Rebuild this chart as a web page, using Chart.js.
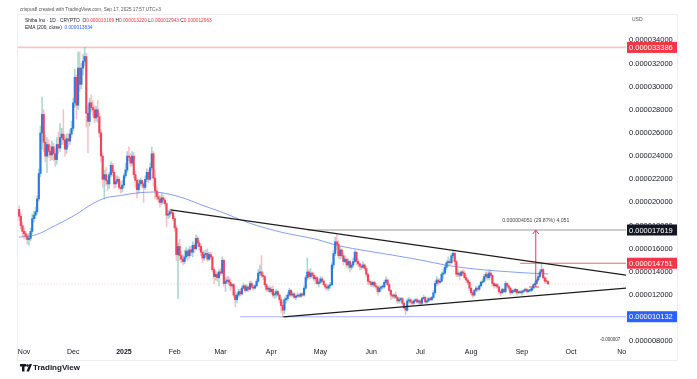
<!DOCTYPE html>
<html>
<head>
<meta charset="utf-8">
<script src="https://cdn.jsdelivr.net/npm/chart.js@4.4.1/dist/chart.umd.min.js"></script>
<style>
html,body{margin:0;padding:0;background:#ffffff;}
#wrap{position:relative;width:697px;height:379px;}
canvas{display:block;}
</style>
</head>
<body>
<div id="wrap"><canvas id="c" width="697" height="379"></canvas></div>
<script>
// Prices are in millionths of a US dollar (1 = 0.000001 USD). Daily candles, day 0 = 2024-11-01.
const firstDay = -3;          // 2024-10-29
const firstOpen = 19.4;
const closes = [
  18.8,18.0,17.5,
  17.3,17.1,16.8,16.9,17.5,18.6,18.9,19.2,20.3,22.5,26.0,27.6,25.2,24.0,25.0,24.4,24.1,24.8,24.2,23.7,25.0,24.7,25.6,25.9,25.4,24.6,25.5,25.3,25.9,26.4,
  28.6,30.8,28.4,31.6,30.2,31.6,32.2,32.6,27.7,27.0,28.6,28.2,28.0,27.3,28.0,27.4,26.0,24.0,22.0,22.4,21.9,21.6,22.4,23.2,22.6,21.6,21.8,22.0,21.3,21.2,21.5,
  22.3,22.8,24.0,23.9,23.4,24.0,22.4,21.9,21.1,21.6,21.9,21.6,21.3,22.0,22.6,22.0,23.0,24.2,22.1,21.0,20.5,20.3,20.0,20.4,20.2,19.9,18.9,19.0,19.2,19.1,18.6,
  17.8,15.5,16.2,15.4,15.1,14.9,15.3,15.8,15.4,15.9,15.7,16.3,16.0,16.9,16.5,16.2,15.7,15.2,15.5,15.6,15.1,15.5,15.3,14.2,13.6,13.8,13.5,14.0,
  13.9,15.0,13.0,13.2,13.3,13.1,12.8,12.9,12.0,11.6,12.0,12.3,12.1,12.6,12.8,12.4,12.7,12.5,13.0,12.7,12.6,12.8,13.2,13.9,14.0,13.7,13.6,12.9,12.5,12.6,12.3,
  12.5,12.0,12.1,12.3,12.0,11.6,11.1,10.7,11.6,11.7,12.0,12.4,12.0,12.1,11.8,11.9,12.0,11.9,12.1,12.0,12.6,13.5,14.0,13.6,13.9,13.7,13.4,13.5,13.0,13.1,
  13.4,13.2,12.9,12.7,12.6,12.8,12.9,14.6,15.6,16.6,16.4,15.4,15.9,15.4,14.9,15.1,14.6,14.9,14.4,14.6,14.9,15.7,14.9,14.7,14.5,14.4,14.6,14.3,13.8,13.2,13.1,
  12.9,13.1,12.8,12.7,12.3,12.6,12.7,12.7,13.1,13.3,12.9,12.4,12.0,11.9,12.0,11.8,11.5,11.6,11.7,11.3,10.9,10.7,11.5,11.6,11.4,11.3,11.5,11.6,11.4,11.5,
  11.3,11.7,11.8,11.4,11.5,11.7,11.6,11.8,12.2,13.0,13.3,13.1,13.2,13.8,13.9,14.4,14.8,14.9,14.8,15.4,15.6,14.9,13.8,13.9,13.7,14.0,13.9,13.5,13.3,13.1,12.6,
  12.2,12.0,12.4,12.6,12.5,12.8,13.1,13.2,13.6,13.8,13.5,13.9,13.7,13.0,12.8,12.9,12.7,12.3,12.2,12.5,12.3,13.0,12.8,12.6,12.2,12.4,12.3,12.5,12.2,12.3,12.2,
  12.3,12.4,12.5,12.3,12.4,12.4,12.6,12.9,13.0,13.3,13.6,14.0,14.2,13.5,13.2,13.169,12.963
];
const highs = [
  19.7,19.1,18.3,
  17.9,17.5,17.3,17.3,17.8,19.0,19.2,19.6,20.6,22.9,26.6,29.1,28.0,25.8,25.6,25.4,24.9,25.3,25.1,24.6,25.6,26.1,26.8,26.4,28.0,25.8,25.9,26.0,26.3,27.0,
  29.0,31.5,31.0,33.0,33.0,32.0,32.8,33.386,32.9,28.4,29.0,29.3,28.8,28.4,28.3,28.8,27.7,26.3,24.3,22.8,23.0,22.3,22.6,23.5,23.4,22.8,22.3,22.3,22.2,21.8,21.9,
  22.5,23.4,24.4,24.8,24.2,24.4,24.3,22.7,22.1,22.0,22.1,22.0,21.8,22.3,22.9,22.8,23.4,24.8,24.4,22.8,21.4,20.9,20.6,20.8,20.6,20.4,20.0,19.3,19.4,19.4,19.3,
  18.8,18.0,16.5,16.8,15.8,15.5,15.9,16.1,16.0,16.2,16.2,16.6,16.5,17.2,17.1,16.7,16.4,15.9,15.8,15.9,16.0,15.7,15.7,15.4,14.4,14.1,14.0,14.2,
  14.3,15.3,15.1,13.5,13.6,13.6,13.4,13.0,13.0,12.3,12.2,12.5,12.5,12.8,13.0,12.9,12.9,12.8,13.2,13.2,12.9,12.9,13.4,14.2,14.6,15.4,14.0,13.7,13.0,12.8,12.8,
  12.7,12.8,12.3,12.5,12.4,12.1,11.8,11.4,11.8,12.0,12.2,12.6,12.5,12.3,12.2,12.0,12.2,12.1,12.2,12.2,12.8,13.7,15.2,14.2,14.3,14.0,13.9,13.7,13.6,13.3,
  13.6,13.6,13.3,13.0,12.9,12.9,13.1,14.8,15.9,17.0,17.2,16.7,16.2,16.0,15.6,15.4,15.2,15.1,15.0,14.8,15.2,15.9,15.8,15.1,14.8,14.7,14.9,14.7,14.5,13.9,13.4,
  13.2,13.2,13.2,13.0,12.8,12.8,12.8,12.9,13.3,13.6,13.4,13.0,12.5,12.1,12.1,12.3,11.9,11.8,11.8,11.8,11.4,11.0,11.7,11.8,11.7,11.6,11.6,11.7,11.7,11.6,
  11.6,11.8,12.0,11.9,11.6,11.8,11.8,11.9,12.4,13.2,13.6,13.4,13.4,14.0,14.2,14.6,15.0,15.3,15.1,15.6,15.9,15.7,15.0,14.2,14.0,14.1,14.2,14.1,13.7,13.4,13.2,
  12.7,12.3,12.5,12.8,12.7,12.9,13.2,13.4,13.8,14.0,14.0,14.2,14.1,13.8,13.1,13.0,13.0,12.8,12.4,12.6,12.6,13.2,13.1,12.9,12.7,12.5,12.5,12.6,12.5,12.4,12.4,
  12.4,12.5,12.6,12.6,12.5,12.5,12.7,13.0,13.2,13.4,13.8,14.2,14.751,14.3,13.6,13.5,13.220
];
const lows = [
  18.4,17.7,17.1,
  16.9,16.8,16.4,16.3,16.7,17.3,18.3,18.6,19.0,20.1,22.2,24.6,24.4,23.5,22.6,23.9,23.6,23.7,23.6,23.1,23.3,24.2,24.4,25.0,25.0,24.0,24.2,24.8,25.0,25.6,
  26.2,28.2,27.2,28.0,29.6,29.8,31.0,31.8,26.5,24.3,26.6,27.8,27.4,26.9,27.0,26.9,25.6,23.5,21.3,20.3,21.5,21.0,21.2,22.2,22.3,21.2,21.3,21.6,21.1,20.8,20.9,
  21.3,22.1,22.6,23.6,23.1,23.2,22.1,21.3,20.4,20.8,21.4,21.3,20.0,21.1,21.8,21.7,21.9,22.8,21.4,20.3,20.2,20.0,19.6,19.8,19.9,19.7,17.9,18.6,18.7,18.9,18.4,
  17.5,15.0,11.7,15.0,14.8,14.6,14.7,15.1,15.0,15.2,15.4,15.3,15.7,15.9,16.2,15.9,15.4,14.8,15.0,15.3,14.9,15.0,15.1,14.0,13.0,13.3,13.2,12.8,
  13.7,13.8,12.8,12.3,13.0,12.9,12.4,12.6,11.8,11.0,11.3,11.8,11.9,12.0,12.5,12.2,12.3,12.3,12.4,12.6,12.4,12.5,12.7,13.1,13.7,13.5,13.3,12.7,12.3,12.3,12.2,
  12.1,11.8,11.7,11.8,11.9,11.3,10.5,10.1,10.4,11.3,11.5,11.9,11.8,11.9,11.7,11.6,11.8,11.8,11.8,11.9,11.9,12.5,13.3,13.4,13.4,13.5,13.2,13.0,12.9,12.7,
  13.0,13.1,12.8,12.5,12.4,12.4,12.6,12.8,14.3,15.4,15.9,15.2,15.1,15.2,14.6,14.8,14.4,14.3,14.0,14.2,14.4,14.8,14.6,14.5,14.2,14.2,14.3,14.1,13.6,12.9,12.9,
  12.7,12.7,12.7,12.5,12.0,12.2,12.4,12.5,12.6,13.0,12.8,12.3,11.6,11.7,11.7,11.7,11.3,11.3,11.4,11.1,10.8,10.3,10.6,11.3,11.2,11.1,11.2,11.4,11.3,11.2,
  11.1,11.2,11.6,11.3,11.3,11.4,11.5,11.5,11.7,12.1,12.8,12.9,13.0,13.1,13.4,13.8,14.2,14.5,14.6,14.7,15.2,14.6,13.6,13.6,13.3,13.6,13.7,13.4,13.1,12.9,12.4,
  12.0,11.8,11.9,12.3,12.3,12.4,12.7,13.0,13.1,13.4,13.3,13.3,13.5,12.8,12.6,12.7,12.6,12.1,11.9,12.1,12.2,12.2,12.7,12.4,12.0,12.1,12.2,12.2,12.0,12.1,12.1,
  12.0,12.2,12.3,12.2,12.2,12.3,12.3,12.5,12.8,12.9,13.2,13.5,13.9,13.4,13.0,13.0,12.943
];
// EMA(200, close): [day, value]
const emaDays   = [-3, 7, 19, 31, 42, 50, 59, 68, 79, 89, 99, 108, 120, 138, 158, 179, 191, 210, 225, 245, 257, 272, 292, 308, 320];
const emaValues = [17.0,17.2,18.0,18.9,19.9,20.4,20.6,20.8,20.9,20.7,20.3,19.8,19.2,18.2,17.4,16.8,16.3,15.8,15.45,14.95,14.6,14.3,14.05,13.9,13.83];
// Trend lines [day, price]
const upperTrend = [[89.5, 19.35], [368, 13.72]];
const lowerTrend = [[158.4, 10.12], [368, 12.6]];
// Horizontal levels and their start day
const levelPrices = [33.386, 17.619, 14.751, 10.132];
const levelStart  = [-4, 173, 303, 132];
const lastPrice = 12.963;
// Price range measurement
const rangeDay = 312.5, rangeFrom = 12.7, rangeTo = 17.619;
const rangeText = '0.000004051 (29.87%) 4,051';
// Axis ticks
const priceTicks = [8,10,12,14,16,18,20,22,24,26,28,30,32,34];
const monthDays   = [0, 30, 61, 92, 120, 151, 181, 212, 242, 273, 304, 334, 365];
const monthLabels = ['Nov','Dec','2025','Feb','Mar','Apr','May','Jun','Jul','Aug','Sep','Oct','No'];

const FONT = '"Liberation Sans", Arial, sans-serif';
const X_MIN = -3.7, X_MAX = 367.6, Y_MIN = 7.69, Y_MAX = 36.27;
const UP = '#2b78e4', DOWN = '#f0455a';
const UP_WICK = 'rgba(90,185,165,0.55)', DOWN_WICK = 'rgba(240,72,93,0.35)';
const levelColors = ['rgba(242,54,69,0.30)', '#9a9a9a', 'rgba(242,54,69,0.75)', 'rgba(41,98,255,0.45)'];
const tagColors = ['#f23645', '#131722', '#f23645', '#2962ff'];

const opens = closes.map((c, i) => i === 0 ? firstOpen : closes[i - 1]);
const days = closes.map((_, i) => firstDay + i);
const up = closes.map((c, i) => c >= opens[i]);

const datasets = [];
datasets.push({
  type: 'bar', label: 'body', order: 1, grouped: false, barThickness: 1.5, minBarLength: 1,
  data: closes.map((c, i) => ({ x: days[i], y: [opens[i], c] })),
  backgroundColor: up.map(u => u ? UP : DOWN), borderWidth: 0
});
datasets.push({
  type: 'bar', label: 'wick', order: 2, grouped: false, barThickness: 0.9,
  data: closes.map((c, i) => ({ x: days[i], y: [lows[i], highs[i]] })),
  backgroundColor: up.map(u => u ? UP_WICK : DOWN_WICK), borderWidth: 0
});
datasets.push({
  type: 'line', label: 'ema', order: 3,
  data: emaDays.map((d, i) => ({ x: d, y: emaValues[i] })),
  borderColor: 'rgba(80,120,240,0.7)', borderWidth: 1, pointRadius: 0, cubicInterpolationMode: 'monotone'
});
levelPrices.forEach((p, i) => datasets.push({
  type: 'line', label: 'level' + i, order: 4,
  data: [{ x: levelStart[i], y: p }, { x: 368, y: p }],
  borderColor: levelColors[i], borderWidth: i === 0 ? 1.6 : 1.1, pointRadius: 0
}));
datasets.push({
  type: 'line', label: 'last', order: 4,
  data: [{ x: -4, y: lastPrice }, { x: 368, y: lastPrice }],
  borderColor: 'rgba(242,54,69,0.35)', borderWidth: 0.8, borderDash: [1, 2], pointRadius: 0
});
[upperTrend, lowerTrend].forEach((t, i) => datasets.push({
  type: 'line', label: 'trend' + i, order: 0,
  data: t.map(p => ({ x: p[0], y: p[1] })),
  borderColor: '#1c1c1c', borderWidth: 1.3, pointRadius: 0
}));
datasets.push({
  type: 'line', label: 'range', order: 0,
  data: [{ x: rangeDay, y: rangeFrom }, { x: rangeDay, y: rangeTo }],
  borderColor: '#e8336b', borderWidth: 1, pointRadius: 0
});
datasets.push({
  type: 'line', label: 'rangeBase', order: 0,
  data: [{ x: rangeDay - 4, y: rangeFrom }, { x: rangeDay + 2, y: rangeFrom }],
  borderColor: '#e8336b', borderWidth: 1, pointRadius: 0
});

const overlay = {
  id: 'overlay',
  afterDraw(chart) {
    const ctx = chart.ctx, ys = chart.scales.y, xs = chart.scales.x, ca = chart.chartArea;
    ctx.save();
    // card border
    ctx.strokeStyle = '#eceef2'; ctx.lineWidth = 1;
    ctx.strokeRect(17.5, 14.5, 660, 346);
    // arrow head
    const ax = xs.getPixelForValue(rangeDay), ay = ys.getPixelForValue(rangeTo);
    ctx.strokeStyle = '#e8336b'; ctx.lineWidth = 1;
    ctx.beginPath(); ctx.moveTo(ax - 3, ay + 4); ctx.lineTo(ax, ay); ctx.lineTo(ax + 3, ay + 4); ctx.stroke();
    ctx.font = '5.2px ' + FONT; ctx.fillStyle = '#444'; ctx.textAlign = 'center'; ctx.textBaseline = 'middle';
    ctx.fillText(rangeText, ax, ay - 9);
    // price tags
    ctx.font = '7.5px ' + FONT; ctx.textAlign = 'left';
    levelPrices.forEach((p, i) => {
      const y = ys.getPixelForValue(p);
      ctx.fillStyle = tagColors[i];
      ctx.fillRect(ca.right + 1, y - 5.5, 50, 11);
      ctx.fillStyle = '#ffffff';
      ctx.fillText((p / 1e6).toFixed(9), ca.right + 3, y + 0.5);
    });
    // header
    ctx.textBaseline = 'middle';
    ctx.font = '4.7px ' + FONT; ctx.fillStyle = '#555';
    ctx.fillText('crispus8 created with TradingView.com, Sep 17, 2025 17:57 UTC+3', 20, 9.5);
    ctx.font = '4.8px ' + FONT;
    let x = 25;
    const seg = (t, c) => { ctx.fillStyle = c; ctx.fillText(t, x, 20.5); x += ctx.measureText(t).width; };
    seg('Shiba Inu \u00b7 1D \u00b7 CRYPTO  ', '#131722');
    seg('O', '#131722'); seg('0.000013169 ', '#f23645');
    seg('H', '#131722'); seg('0.000013220 ', '#f23645');
    seg('L', '#131722'); seg('0.000012943 ', '#f23645');
    seg('C', '#131722'); seg('0.000012963', '#f23645');
    ctx.fillStyle = '#131722'; ctx.fillText('EMA (200, close)', 25, 27.5);
    const w = ctx.measureText('EMA (200, close)  ').width;
    ctx.fillStyle = '#2962ff'; ctx.fillText('0.000013834', 25 + w, 27.5);
    ctx.font = '5px ' + FONT;
    ctx.fillStyle = '#555'; ctx.fillText('USD', 632, 20);
    ctx.font = '4.5px ' + FONT; ctx.fillStyle = '#333';
    ctx.fillText('-0.000007', 600, 340);
    // TradingView mark
    ctx.fillStyle = '#131722';
    ctx.fillRect(20, 364, 6, 2.5); ctx.fillRect(22, 364, 2.5, 7.5);
    ctx.beginPath(); ctx.arc(27.5, 365.5, 1.3, 0, Math.PI * 2); ctx.fill();
    ctx.beginPath(); ctx.moveTo(29.5, 364); ctx.lineTo(32, 364); ctx.lineTo(29, 371.5); ctx.lineTo(26.5, 371.5); ctx.closePath(); ctx.fill();
    ctx.font = 'bold 8px ' + FONT; ctx.fillText('TradingView', 33, 368);
    ctx.restore();
  }
};

new Chart(document.getElementById('c'), {
  type: 'bar',
  data: { datasets },
  plugins: [overlay],
  options: {
    responsive: false, animation: false, maintainAspectRatio: false,
    layout: { padding: { left: 18, right: 20, top: 14, bottom: 19 } },
    plugins: { legend: { display: false }, tooltip: { enabled: false } },
    scales: {
      x: {
        type: 'linear', min: X_MIN, max: X_MAX, offset: false,
        grid: { display: false, drawTicks: false }, border: { display: false },
        afterBuildTicks(axis) { axis.ticks = monthDays.map(v => ({ value: v })); },
        afterFit(axis) { axis.height = 15; },
        ticks: {
          autoSkip: false, maxRotation: 0, padding: 3, color: '#131722',
          font: (c) => ({ family: FONT, size: 7, weight: (c.tick && c.tick.value === 61) ? 'bold' : 'normal' }),
          callback: (v, i) => monthLabels[i]
        }
      },
      y: {
        type: 'linear', position: 'right', min: Y_MIN, max: Y_MAX,
        grid: { display: false, drawTicks: false }, border: { display: false },
        afterBuildTicks(axis) { axis.ticks = priceTicks.map(v => ({ value: v })); },
        afterFit(axis) { axis.width = 51; },
        ticks: {
          padding: 3, color: '#131722', font: { family: FONT, size: 7.5 },
          callback: (v) => (v / 1e6).toFixed(9)
        }
      }
    }
  }
});
</script>
</body>
</html>
